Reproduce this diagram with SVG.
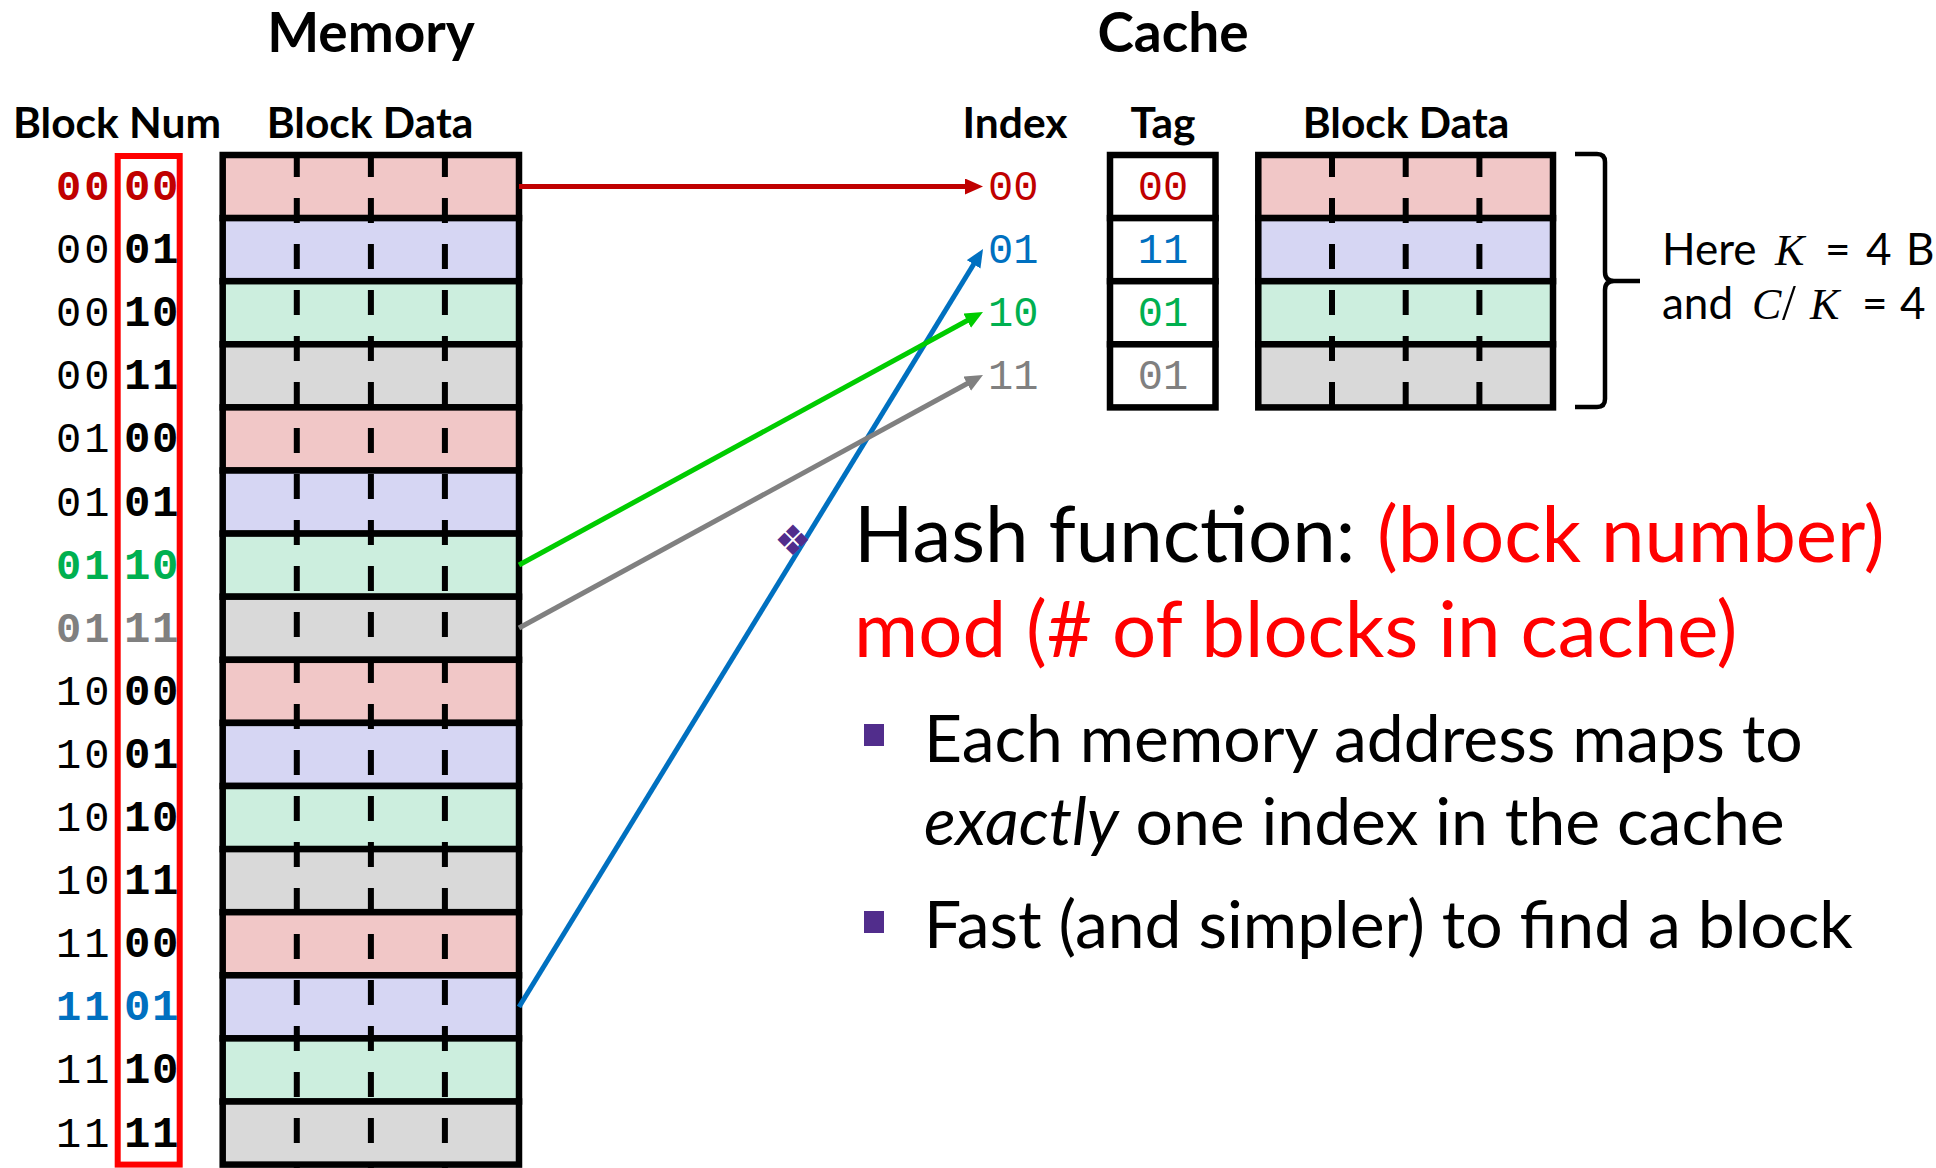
<svg xmlns="http://www.w3.org/2000/svg" width="1936" height="1168" viewBox="0 0 1936 1168">
<style>
.hdr{font-family:Lato,"Liberation Sans",sans-serif;font-weight:bold;font-size:55px;fill:#000;text-anchor:middle}
.sub{font-family:Lato,"Liberation Sans",sans-serif;font-weight:bold;font-size:42.5px;fill:#000;text-anchor:middle}
.mono{font-family:"Liberation Mono","DejaVu Sans Mono",monospace;font-size:42px}
.lt{font-weight:normal;letter-spacing:3px}
.bd{font-weight:bold;font-size:44px;letter-spacing:1.5px}
.bdl{font-weight:bold;letter-spacing:3px}
.cell{stroke:#000;stroke-width:6.5}
.p{fill:#F1C7C7}.b{fill:#D6D6F3}.g{fill:#CCEEDE}.y{fill:#D9D9D9}
.dash{stroke:#000;stroke-width:6;stroke-dasharray:25 21;fill:none}
.red{fill:#C00000}.blu{fill:#0070C0}.grn{fill:#00B050}.gry{fill:#808080}.blk{fill:#000}
.body{font-family:Lato,"Liberation Sans",sans-serif;fill:#000}
.hot{fill:#FF0000}
.math{font-family:"Liberation Serif",serif;font-style:italic}
.mathr{font-family:"Liberation Serif",serif}
.conn{fill:none;stroke-width:5}
.bul{fill:#512D8C}
</style>
<defs>
<marker id="ahR" markerUnits="userSpaceOnUse" markerWidth="20" markerHeight="18" refX="8" refY="8" orient="auto"><path d="M0,0 L18,8 L0,16 z" fill="#C00000"/></marker>
<marker id="ahB" markerUnits="userSpaceOnUse" markerWidth="20" markerHeight="18" refX="8" refY="8" orient="auto"><path d="M0,0 L18,8 L0,16 z" fill="#0070C0"/></marker>
<marker id="ahG" markerUnits="userSpaceOnUse" markerWidth="20" markerHeight="18" refX="8" refY="8" orient="auto"><path d="M0,0 L18,8 L0,16 z" fill="#00CC00"/></marker>
<marker id="ahY" markerUnits="userSpaceOnUse" markerWidth="20" markerHeight="18" refX="8" refY="8" orient="auto"><path d="M0,0 L18,8 L0,16 z" fill="#808080"/></marker>
</defs>

<g id="headers">
<text class="hdr" x="371" y="52">Memory</text>
<text class="hdr" x="1173" y="52">Cache</text>
<text class="sub" x="117" y="138">Block Num</text>
<text class="sub" x="370" y="138">Block Data</text>
<text class="sub" x="1015" y="138">Index</text>
<text class="sub" x="1163" y="138">Tag</text>
<text class="sub" x="1406" y="138">Block Data</text>
</g>

<g id="memory">
<rect class="cell p" x="222.7" y="155" width="296.3" height="63.1"/>
<rect class="cell b" x="222.7" y="218.1" width="296.3" height="63.1"/>
<rect class="cell g" x="222.7" y="281.2" width="296.3" height="63.1"/>
<rect class="cell y" x="222.7" y="344.3" width="296.3" height="63.1"/>
<rect class="cell p" x="222.7" y="407.4" width="296.3" height="63.1"/>
<rect class="cell b" x="222.7" y="470.5" width="296.3" height="63.1"/>
<rect class="cell g" x="222.7" y="533.6" width="296.3" height="63.1"/>
<rect class="cell y" x="222.7" y="596.7" width="296.3" height="63.1"/>
<rect class="cell p" x="222.7" y="659.8" width="296.3" height="63.1"/>
<rect class="cell b" x="222.7" y="722.9" width="296.3" height="63.1"/>
<rect class="cell g" x="222.7" y="786" width="296.3" height="63.1"/>
<rect class="cell y" x="222.7" y="849.1" width="296.3" height="63.1"/>
<rect class="cell p" x="222.7" y="912.2" width="296.3" height="63.1"/>
<rect class="cell b" x="222.7" y="975.3" width="296.3" height="63.1"/>
<rect class="cell g" x="222.7" y="1038.4" width="296.3" height="63.1"/>
<rect class="cell y" x="222.7" y="1101.5" width="296.3" height="63.1"/>
<line class="dash" x1="296.8" y1="152" x2="296.8" y2="1168"/>
<line class="dash" x1="370.9" y1="152" x2="370.9" y2="1168"/>
<line class="dash" x1="444.9" y1="152" x2="444.9" y2="1168"/>
</g>

<g id="block-num">
<rect x="117.7" y="156" width="62" height="1008.6" fill="none" stroke="#FF0000" stroke-width="6"/>
<g class="mono">
<text y="200"><tspan x="56" class="bdl red">00</tspan><tspan x="124" class="bd red">00</tspan></text>
<text y="263.1"><tspan x="56" class="lt blk">00</tspan><tspan x="124" class="bd blk">01</tspan></text>
<text y="326.2"><tspan x="56" class="lt blk">00</tspan><tspan x="124" class="bd blk">10</tspan></text>
<text y="389.3"><tspan x="56" class="lt blk">00</tspan><tspan x="124" class="bd blk">11</tspan></text>
<text y="452.4"><tspan x="56" class="lt blk">01</tspan><tspan x="124" class="bd blk">00</tspan></text>
<text y="515.5"><tspan x="56" class="lt blk">01</tspan><tspan x="124" class="bd blk">01</tspan></text>
<text y="578.6"><tspan x="56" class="bdl grn">01</tspan><tspan x="124" class="bd grn">10</tspan></text>
<text y="641.7"><tspan x="56" class="bdl gry">01</tspan><tspan x="124" class="bd gry">11</tspan></text>
<text y="704.8"><tspan x="56" class="lt blk">10</tspan><tspan x="124" class="bd blk">00</tspan></text>
<text y="767.9"><tspan x="56" class="lt blk">10</tspan><tspan x="124" class="bd blk">01</tspan></text>
<text y="831"><tspan x="56" class="lt blk">10</tspan><tspan x="124" class="bd blk">10</tspan></text>
<text y="894.1"><tspan x="56" class="lt blk">10</tspan><tspan x="124" class="bd blk">11</tspan></text>
<text y="957.2"><tspan x="56" class="lt blk">11</tspan><tspan x="124" class="bd blk">00</tspan></text>
<text y="1020.3"><tspan x="56" class="bdl blu">11</tspan><tspan x="124" class="bd blu">01</tspan></text>
<text y="1083.4"><tspan x="56" class="lt blk">11</tspan><tspan x="124" class="bd blk">10</tspan></text>
<text y="1146.5"><tspan x="56" class="lt blk">11</tspan><tspan x="124" class="bd blk">11</tspan></text>
</g>
</g>

<g id="cache-index" class="mono">
<text x="988" y="200" class="red">00</text>
<text x="988" y="263.1" class="blu">01</text>
<text x="988" y="326.2" class="grn">10</text>
<text x="988" y="389.3" class="gry">11</text>
</g>

<g id="cache-tag">
<rect class="cell" fill="#fff" x="1110" y="155" width="105.5" height="63.1"/>
<rect class="cell" fill="#fff" x="1110" y="218.1" width="105.5" height="63.1"/>
<rect class="cell" fill="#fff" x="1110" y="281.2" width="105.5" height="63.1"/>
<rect class="cell" fill="#fff" x="1110" y="344.3" width="105.5" height="63.1"/>
<g class="mono" text-anchor="middle">
<text x="1163" y="200" class="red">00</text>
<text x="1163" y="263.1" class="blu">11</text>
<text x="1163" y="326.2" class="grn">01</text>
<text x="1163" y="389.3" class="gry">01</text>
</g>
</g>

<g id="cache-data">
<rect class="cell p" x="1258.3" y="155" width="294.7" height="63.1"/>
<rect class="cell b" x="1258.3" y="218.1" width="294.7" height="63.1"/>
<rect class="cell g" x="1258.3" y="281.2" width="294.7" height="63.1"/>
<rect class="cell y" x="1258.3" y="344.3" width="294.7" height="63.1"/>
<line class="dash" x1="1332" y1="152" x2="1332" y2="410"/>
<line class="dash" x1="1405.7" y1="152" x2="1405.7" y2="410"/>
<line class="dash" x1="1479.4" y1="152" x2="1479.4" y2="410"/>
</g>

<g id="brace-note">
<path d="M1575,154 H1597 Q1605,154 1605,162 V272 Q1605,281 1614,281 H1640 M1614,281 Q1605,281 1605,290 V399 Q1605,407 1597,407 H1575" fill="none" stroke="#000" stroke-width="4.5"/>
<text class="body" font-size="44" y="265"><tspan x="1662">Here</tspan><tspan x="1775" class="math">K</tspan><tspan x="1825">=</tspan><tspan x="1866">4</tspan><tspan x="1906">B</tspan></text>
<text class="body" font-size="44" y="319"><tspan x="1662">and</tspan><tspan x="1752" class="math">C</tspan><tspan x="1782" class="mathr" font-size="50">/</tspan><tspan x="1810" class="math">K</tspan><tspan x="1862">=</tspan><tspan x="1900">4</tspan></text>
</g>

<g id="connectors">
<line class="conn" stroke="#C00000" x1="519" y1="186.5" x2="973" y2="186.5" marker-end="url(#ahR)"/>
<line class="conn" stroke="#0070C0" x1="519" y1="1007" x2="977.8" y2="257.5" marker-end="url(#ahB)"/>
<line class="conn" stroke="#00CC00" x1="519" y1="565" x2="974.2" y2="316.8" marker-end="url(#ahG)"/>
<line class="conn" stroke="#808080" x1="519" y1="628" x2="974.2" y2="379.8" marker-end="url(#ahY)"/>
</g>

<g id="hash-text">
<text x="774" y="555" font-family="'DejaVu Sans',sans-serif" font-size="42" class="bul">❖</text>
<text class="body" font-size="78" x="854" y="562">Hash function:<tspan x="1377" class="hot">(block number)</tspan></text>
<text class="body hot" font-size="78" x="854" y="657">mod (# of blocks in cache)</text>
<rect class="bul" x="864" y="724" width="20" height="22"/>
<text class="body" font-size="66" x="924" y="762">Each memory address maps to</text>
<text class="body" font-size="66" x="924" y="845"><tspan font-style="italic">exactly</tspan> one index in the cache</text>
<rect class="bul" x="864" y="911" width="20" height="22"/>
<text class="body" font-size="66" x="924" y="948">Fast (and simpler) to find a block</text>
</g>
</svg>
